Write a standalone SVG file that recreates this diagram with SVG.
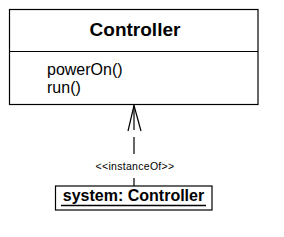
<svg xmlns="http://www.w3.org/2000/svg" width="284" height="237" viewBox="0 0 284 237">
<style>
.box{fill:#fff;stroke:#000;stroke-width:1.2}
.t{font-family:"Liberation Sans",Arial,sans-serif;fill:#000}
.ln{stroke:#000;stroke-width:1.2;fill:none}
</style>
<rect width="284" height="237" fill="#fff"/>
<g id="controller-class">
<rect class="box" x="9.5" y="9.5" width="248.5" height="95"/>
<line class="ln" x1="9.5" y1="51.5" x2="258" y2="51.5"/>
<text class="t" x="135" y="36" font-size="19" font-weight="bold" text-anchor="middle">Controller</text>
<text class="t" x="47" y="75" font-size="16">powerOn()</text>
<text class="t" x="47" y="93" font-size="16">run()</text>
</g>
<g id="connectors">
<path class="ln" d="M134 105 V130 M134 137 V154 M134 178 V186"/>
<path class="ln" d="M128 131 L134 105.5 L141 131"/>
<text class="t" x="135" y="170" font-size="10.5" text-anchor="middle" letter-spacing="0.3">&lt;&lt;instanceOf&gt;&gt;</text>
</g>
<g id="system-object">
<rect class="box" x="55.5" y="186" width="156.5" height="24"/>
<text class="t" x="133.5" y="201" font-size="16" font-weight="bold" text-anchor="middle">system: Controller</text>
<line x1="61" y1="205.5" x2="206" y2="205.5" stroke="#000" stroke-width="1.6"/>
</g>
</svg>
